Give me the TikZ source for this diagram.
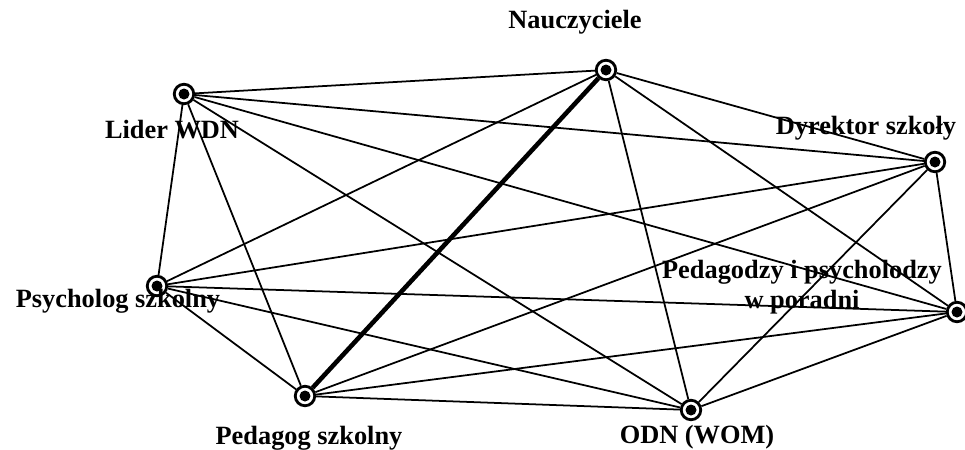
\documentclass[tikz,border=0pt]{standalone}
\usepackage{fontspec}
\setmainfont{Liberation Serif}
\begin{document}
\begin{tikzpicture}[x=0.2mm, y=-0.2mm,
  osoba/.style={circle, draw, line width=1.6pt, fill=white, inner sep=0pt,
    minimum size=3.9mm},
  etykieta/.style={font=\fontsize{15}{17}\selectfont\bfseries, inner sep=0pt, align=center},
  relacja/.style={line width=1pt},
  silna/.style={line width=2.6pt}]
  \useasboundingbox (0,0) rectangle (965,449);
  % uczestnicy
  \node[osoba] (naucz) at (606,70) {};
  \node[osoba] (lider) at (184,94) {};
  \node[osoba] (dyr) at (935,162) {};
  \node[osoba] (psych) at (157,286) {};
  \node[osoba] (pedpor) at (957,312) {};
  \node[osoba] (pedag) at (305,396) {};
  \node[osoba] (odn) at (691,410) {};
  \foreach \n in {naucz, lider, dyr, psych, pedpor, pedag, odn}
    \fill (\n.center) circle (1.1mm);
  % podpisy
  \node[etykieta] (t-naucz) at (575,22) {Nauczyciele};
  \node[etykieta] (t-lider) at (172,130) {Lider WDN};
  \node[etykieta] (t-dyr) at (866,128) {Dyrektor szkoły};
  \node[etykieta] (t-psych) at (118,301) {Psycholog szkolny};
  \node[etykieta] (t-pedpor) at (802,287) {Pedagodzy i psycholodzy\\w poradni};
  \node[etykieta] (t-pedag) at (309,438) {Pedagog szkolny};
  \node[etykieta] (t-odn) at (697,437) {ODN (WOM)};
  % powiazania
  \foreach \a/\b in {lider/naucz, lider/dyr, lider/pedpor, lider/odn, lider/psych, lider/pedag,
                     naucz/dyr, naucz/pedpor, naucz/odn, naucz/psych,
                     dyr/pedpor, dyr/odn, dyr/psych, dyr/pedag,
                     pedpor/psych, pedpor/pedag, pedpor/odn,
                     odn/psych, odn/pedag, psych/pedag}
    \draw[relacja] (\a) -- (\b);
  \draw[silna] (naucz) -- (pedag);
\end{tikzpicture}
\end{document}
